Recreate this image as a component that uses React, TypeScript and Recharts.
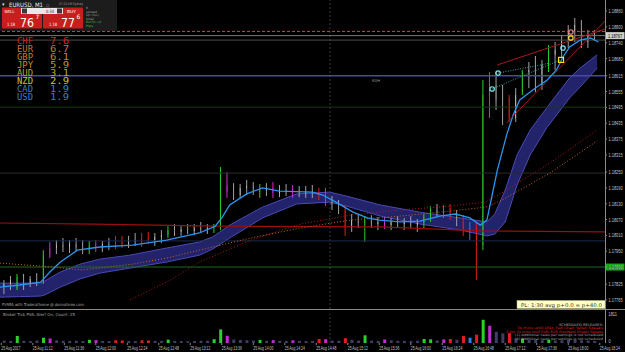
import React from 'react';
import {
  ComposedChart,
  BarChart,
  Bar,
  Line,
  Area,
  XAxis,
  YAxis,
  ReferenceLine,
  Cell,
} from 'recharts';

// EURUSD M1, 25 Aug 2017, grouped into 5-minute candles from 10:48
const candleOpen = [
  1.17818, 1.17826, 1.1781, 1.17852, 1.17829, 1.17845, 1.17833, 1.17935, 1.17962, 1.17973,
  1.17966, 1.17977, 1.17966, 1.17954, 1.1797, 1.17962, 1.17977, 1.17973, 1.17985, 1.17977,
  1.17992, 1.17985, 1.18, 1.17992, 1.18004, 1.18011, 1.1803, 1.18023, 1.18034, 1.18027,
  1.18038, 1.1803, 1.18038, 1.18045, 1.18201, 1.18174, 1.18163, 1.1819, 1.18197, 1.18174,
  1.18182, 1.1819, 1.1817, 1.18182, 1.18174, 1.18182, 1.1817, 1.18178, 1.18163, 1.1817,
  1.18136, 1.18125, 1.18106, 1.18038, 1.18068, 1.18057, 1.18064, 1.18053, 1.18061, 1.18049,
  1.18061, 1.18053, 1.18064, 1.18049, 1.18057, 1.1808, 1.18106, 1.18098, 1.18114, 1.18083,
  1.18061, 1.18023, 1.18038, 1.17973, 1.18542, 1.1858, 1.18523, 1.18531, 1.18455, 1.18553,
  1.18629, 1.18637, 1.1858, 1.18656, 1.18694, 1.18712, 1.1875, 1.18781, 1.18807, 1.18743,
  1.18769,
];
const candleHigh = [
  1.17841, 1.17856, 1.17864, 1.17864, 1.17856, 1.17867, 1.17954, 1.17985, 1.17992, 1.18,
  1.17992, 1.18, 1.17992, 1.17989, 1.17992, 1.17989, 1.18, 1.18008, 1.18008, 1.18008,
  1.18019, 1.18019, 1.18023, 1.18019, 1.1803, 1.18045, 1.18053, 1.18049, 1.18053, 1.18053,
  1.18061, 1.18053, 1.18053, 1.18269, 1.1825, 1.18208, 1.18205, 1.1822, 1.18212, 1.18205,
  1.18208, 1.18212, 1.18201, 1.18205, 1.18201, 1.18197, 1.18197, 1.18201, 1.1819, 1.1819,
  1.18159, 1.18144, 1.18125, 1.18091, 1.18091, 1.18083, 1.18087, 1.1808, 1.1808, 1.18076,
  1.18083, 1.18076, 1.18083, 1.18072, 1.18091, 1.18121, 1.18129, 1.18125, 1.18129, 1.18106,
  1.18087, 1.18061, 1.18061, 1.18599, 1.18629, 1.18629, 1.1858, 1.18542, 1.18568, 1.18637,
  1.18667, 1.1869, 1.18675, 1.18731, 1.18743, 1.18769, 1.18807, 1.18834, 1.18826, 1.18788,
  1.18788,
];
const candleLow = [
  1.17788, 1.17803, 1.17803, 1.17803, 1.17814, 1.17818, 1.17826, 1.17924, 1.17939, 1.17947,
  1.17943, 1.17951, 1.17939, 1.17939, 1.17947, 1.17947, 1.17954, 1.17958, 1.17962, 1.17962,
  1.1797, 1.17966, 1.17977, 1.1797, 1.17981, 1.18, 1.18008, 1.18008, 1.18015, 1.18011,
  1.18019, 1.18015, 1.18019, 1.1803, 1.18152, 1.18144, 1.18152, 1.18163, 1.18163, 1.18152,
  1.18159, 1.18152, 1.18155, 1.18159, 1.18152, 1.18155, 1.18152, 1.18152, 1.18144, 1.18121,
  1.18106, 1.18091, 1.18008, 1.18023, 1.18038, 1.17985, 1.18038, 1.1803, 1.18034, 1.1803,
  1.18038, 1.1803, 1.18038, 1.18023, 1.18038, 1.18061, 1.18083, 1.18076, 1.18068, 1.18045,
  1.18008, 1.17992, 1.17841, 1.17954, 1.18455, 1.18485, 1.18428, 1.1844, 1.1844, 1.18542,
  1.18568, 1.18553, 1.18561, 1.18629, 1.18637, 1.18682, 1.1872, 1.18743, 1.1872, 1.1872,
  1.1875,
];
const candleClose = [
  1.17826, 1.17841, 1.17852, 1.17829, 1.17845, 1.17833, 1.17935, 1.17962, 1.17973, 1.17966,
  1.17977, 1.17966, 1.17954, 1.1797, 1.17962, 1.17977, 1.17973, 1.17985, 1.17977, 1.17992,
  1.17985, 1.18, 1.17992, 1.18004, 1.18011, 1.1803, 1.18023, 1.18034, 1.18027, 1.18038,
  1.1803, 1.18038, 1.18045, 1.18201, 1.18174, 1.18163, 1.1819, 1.18197, 1.18174, 1.18182,
  1.1819, 1.1817, 1.18182, 1.18174, 1.18182, 1.1817, 1.18178, 1.18163, 1.1817, 1.18136,
  1.18125, 1.18106, 1.18038, 1.18068, 1.18057, 1.18064, 1.18053, 1.18061, 1.18049, 1.18061,
  1.18053, 1.18064, 1.18049, 1.18057, 1.1808, 1.18106, 1.18098, 1.18114, 1.18083, 1.18061,
  1.18023, 1.18038, 1.17973, 1.18542, 1.1858, 1.18523, 1.18477, 1.18455, 1.18542, 1.18629,
  1.18637, 1.1858, 1.18656, 1.18694, 1.18712, 1.1875, 1.18781, 1.18807, 1.18743, 1.18769,
  1.18767,
];
// PVSRA bar colour: n normal, g green climax, r red climax, m magenta, b blue
const candleKind = (
  'nngnnngmnn' + 'nnngmnnrrn' + 'nrrnngnnnn' + 'nnggmnnnng' + 'nmnnmnnnrm' +
  'nnrnngnnmn' + 'nnnnggnmrn' + 'rbrgmnnrng' + 'nnngnnnnnn' + 'n'
).split('');
const tickVolume = [
  150, 130, 440, 140, 120, 160, 330, 280, 170, 140,
  130, 140, 120, 200, 180, 130, 120, 170, 160, 130,
  120, 170, 160, 130, 140, 210, 130, 120, 110, 130,
  140, 150, 240, 850, 450, 220, 190, 170, 150, 190,
  140, 180, 140, 130, 170, 130, 120, 120, 250, 240,
  150, 140, 300, 200, 150, 480, 150, 130, 220, 170,
  140, 130, 120, 140, 250, 230, 160, 230, 250, 200,
  440, 330, 520, 1450, 1080, 700, 600, 620, 300, 280,
  190, 200, 170, 200, 160, 170, 190, 210, 170, 150,
  130,
];

// fast EMA (blue)
const emaTime = [
  -1, 14, 30, 37, 45, 58, 75, 100, 126, 151, 163, 168, 174, 187, 199, 212, 237, 245, 256, 268,
  279, 288, 304, 319, 334, 346, 357, 365, 370, 374, 378, 382, 385, 390, 395, 408, 416, 423, 428,
  433, 441, 449, 455,
];
const emaPrice = [
  1.17814, 1.17822, 1.17833, 1.17871, 1.17909, 1.17954, 1.17966, 1.17973, 1.17992, 1.18019,
  1.18045, 1.18076, 1.18125, 1.18167, 1.1819, 1.18178, 1.18174, 1.18163, 1.18133, 1.18098,
  1.18076, 1.18068, 1.18061, 1.18064, 1.18083, 1.18091, 1.18076, 1.18049, 1.18068, 1.18163,
  1.18258, 1.18333, 1.1839, 1.18466, 1.18523, 1.18572, 1.18599, 1.18637, 1.18686, 1.18724,
  1.1875, 1.18758, 1.18743,
];

// EMA ribbon (band)
const ribbonTime = [
  -1, 30, 33, 45, 60, 75, 98, 126, 151, 161, 174, 199, 225, 250, 263, 289, 319, 350, 370, 376,
  384, 393, 403, 416, 426, 433, 441, 454,
];
const ribbonTop = [
  1.17829, 1.17829, 1.17837, 1.17871, 1.17901, 1.1792, 1.17935, 1.17962, 1.17985, 1.18004,
  1.18049, 1.18117, 1.18167, 1.18174, 1.18159, 1.18125, 1.18098, 1.18076, 1.18061, 1.18091,
  1.18182, 1.18315, 1.18409, 1.18496, 1.18561, 1.18606, 1.18644, 1.18694,
];
const ribbonBottom = [
  1.17776, 1.1778, 1.17784, 1.17814, 1.17845, 1.17867, 1.17886, 1.17909, 1.17935, 1.17958,
  1.18, 1.18076, 1.18129, 1.18136, 1.18121, 1.18083, 1.18053, 1.1803, 1.18008, 1.18015,
  1.18061, 1.18201, 1.18315, 1.18421, 1.18485, 1.18531, 1.18572, 1.18644,
];

// slow moving averages (dotted)
const slowRedTime = [98, 129, 151, 190, 228, 266, 304, 342, 369, 380, 418, 454];
const slowRedPrice = [
  1.17765, 1.17841, 1.17909, 1.17992, 1.18053, 1.18087, 1.18106, 1.18121, 1.18136, 1.18167,
  1.18284, 1.18409,
];
const slowOrangeTime = [-1, 29, 62, 100, 126, 151, 190, 228, 266, 304, 342, 369, 380, 418, 454];
const slowOrangePrice = [
  1.17905, 1.17894, 1.17879, 1.17901, 1.17924, 1.17954, 1.18, 1.18038, 1.18068, 1.18083,
  1.18102, 1.18117, 1.1814, 1.18246, 1.18368,
];

// red pivot line
const pivotTime = [-1, 70, 164, 289, 365, 460];
const pivotPrice = [1.18057, 1.18053, 1.18045, 1.18042, 1.18027, 1.18023];

// wedge trend lines
const wedgeUpperTime = [378, 460];
const wedgeUpperPrice = [1.18656, 1.18792];
const wedgeLowerTime = [385, 460];
const wedgeLowerPrice = [1.18436, 1.18822];

// swing markers and links
const linkATime = [378.5, 418];
const linkAPrice = [1.18625, 1.18663];
const linkBTime = [374, 426];
const linkBPrice = [1.18565, 1.18675];
const signalTime = [374, 378.5, 426.5, 428, 434, 434];
const signalPrice = [1.18565, 1.18625, 1.18675, 1.1872, 1.18758, 1.18781];
const signalKind = ['cyan', 'cyan', 'square', 'cyan', 'ring', 'pink'];

const priceTicks = [
  1.1886, 1.188, 1.1874, 1.1868, 1.18615, 1.18555, 1.18495, 1.18435, 1.18375, 1.18315, 1.1825,
  1.1819, 1.1813, 1.1807, 1.1801, 1.1795, 1.1789, 1.17825, 1.17765,
];
const timeTicks = [0, 24, 48, 72, 96, 120, 144, 168, 192, 216, 240, 264, 288, 312, 336, 360, 384, 408, 432, 456];
const timeLabels = [
  '25 Aug 2017', '25 Aug 11:12', '25 Aug 11:36', '25 Aug 12:00', '25 Aug 12:24', '25 Aug 12:48',
  '25 Aug 13:12', '25 Aug 13:36', '25 Aug 14:00', '25 Aug 14:24', '25 Aug 14:48', '25 Aug 15:12',
  '25 Aug 15:36', '25 Aug 16:00', '25 Aug 16:24', '25 Aug 16:48', '25 Aug 17:12', '25 Aug 17:36',
  '25 Aug 18:00', '25 Aug 18:24',
];

const strengthCodes = ['CHF', 'EUR', 'GBP', 'JPY', 'AUD', 'NZD', 'CAD', 'USD'];
const strengthValues = ['7.6', '6.7', '6.1', '5.9', '3.1', '2.9', '1.9', '1.9'];
const strengthColors = ['#d82222', '#c27a2a', '#c8822a', '#d28c22', '#b4a82a', '#c8c830', '#2f7fd0', '#3a7ad8'];

const candles = candleOpen.map((o, i) => ({
  t: i * 5 + 2,
  o,
  h: candleHigh[i],
  l: candleLow[i],
  c: candleClose[i],
  k: candleKind[i],
  v: tickVolume[i],
}));
const pts = (ts: number[], ps: number[]) => ts.map((t, i) => ({ t, p: ps[i] }));
const ribbon = ribbonTime.map((t, i) => ({ t, hi: ribbonTop[i], lo: ribbonBottom[i] }));
const signals = signalTime.map((t, i) => ({ t, p: signalPrice[i], kind: signalKind[i] }));

const X_DOMAIN: [number, number] = [-1, 460];
const Y_DOMAIN: [number, number] = [1.17731, 1.18902];
const FONT = 'DejaVu Sans, sans-serif';
const NARROW = 'Liberation Sans, Arial, sans-serif';
const KIND_COLOR: Record<string, string> = { g: '#2bd12b', r: '#e41c1c', m: '#d12bd6', b: '#2f7bf0' };
const VOL_COLOR: Record<string, string> = { g: '#2bd12b', r: '#e41c1c', m: '#c42bd6', b: '#2f7bf0' };

// small axis text, stretched vertically so it stays narrow
function Tiny({ x, y, size, sy = 1.5, fill = '#c4c4c4', children }: any) {
  return (
    <text transform={`translate(${x} ${y}) scale(1 ${sy})`} fontSize={size} fill={fill} fontFamily={NARROW}>
      {children}
    </text>
  );
}

function Candle(props: any) {
  const { x, y, width, height, payload } = props;
  if (!payload || !isFinite(y) || !isFinite(height)) return null;
  const top = Math.min(y, y + height);
  const span = Math.abs(height);
  const { o, h, l, c, k } = payload;
  const range = h - l || 1e-9;
  const toY = (p: number) => top + ((h - p) / range) * span;
  const yo = toY(o);
  const yc = toY(c);
  const body = KIND_COLOR[k] ?? (c >= o ? '#d8d8d8' : '#8e8e8e');
  const wick = KIND_COLOR[k] ?? '#a2a2a2';
  const cx = x + width / 2;
  return (
    <g>
      <line x1={cx} x2={cx} y1={top} y2={top + span} stroke={wick} strokeWidth={1} />
      <rect x={x} y={Math.min(yo, yc)} width={width} height={Math.max(1, Math.abs(yo - yc))} fill={body} />
    </g>
  );
}

function Signal(props: any) {
  const { cx, cy, payload } = props;
  if (cx == null || cy == null || !payload) return null;
  if (payload.kind === 'square')
    return <rect x={cx - 2.5} y={cy - 2.5} width={5} height={5} fill="none" stroke="#f2e21a" strokeWidth={1.2} />;
  const stroke = payload.kind === 'cyan' ? '#7fe8f2' : payload.kind === 'ring' ? '#f2e21a' : '#f08080';
  return <circle cx={cx} cy={cy} r={2.2} fill="none" stroke={stroke} strokeWidth={1.2} />;
}

function PriceTick(props: any) {
  const { y, payload } = props;
  return (
    <Tiny x={608.5} y={y + 2} size={3.9} sy={1.6}>
      {Number(payload.value).toFixed(5)}
    </Tiny>
  );
}

function VolumeTick(props: any) {
  const { y, payload } = props;
  return (
    <Tiny x={608.5} y={payload.value > 0 ? y + 2 : y} size={3.9} sy={1.6}>
      {payload.value}
    </Tiny>
  );
}

function TimeTick(props: any) {
  const { x, y, payload } = props;
  const label = timeLabels[timeTicks.indexOf(payload.value)];
  return (
    <Tiny x={x} y={y + 3} size={3.4} sy={1.5}>
      {label}
    </Tiny>
  );
}

function PriceTag(props: any) {
  const { viewBox, text, bg, fg } = props;
  if (!viewBox) return null;
  const left = viewBox.x + viewBox.width + 1;
  return (
    <g>
      <rect x={left} y={viewBox.y - 3.5} width={18.5} height={7} fill={bg} />
      <Tiny x={left + 2} y={viewBox.y + 2} size={3.9} sy={1.6} fill={fg}>
        {text}
      </Tiny>
    </g>
  );
}

function Overlay() {
  const t = (x: number, y: number, s: string, size: number, fill: string, len?: number, anchor?: string) => (
    <text
      x={x}
      y={y}
      fontSize={size}
      fill={fill}
      fontFamily={FONT}
      textAnchor={anchor as any}
      textLength={len}
      lengthAdjust={len ? 'spacingAndGlyphs' : undefined}
    >
      {s}
    </text>
  );
  return (
    <svg width={625} height={352} style={{ position: 'absolute', left: 0, top: 0, pointerEvents: 'none' }}>
      {/* one-click trading panel */}
      <rect x={0} y={0} width={117} height={31} fill="#1c1c1c" />
      {t(2, 6, '▾', 5, '#dddddd')}
      {t(9, 6.5, 'EURUSD, M1', 6, '#eeeeee', 34)}
      {t(46, 6.5, '▫', 5, '#8888cc')}
      {t(59, 5, '07:20 AM Sydney', 3.5, '#9a9a9a', 24)}
      <rect x={2} y={7.5} width={40} height={21} fill="#c81e1e" rx={1} />
      <rect x={43} y={7.5} width={40} height={21} fill="#c81e1e" rx={1} />
      <rect x={21} y={8} width={42} height={6} fill="#e8e8e8" />
      <rect x={22} y={8.5} width={5} height={5} fill="#3a3a3a" />
      <rect x={57} y={8.5} width={5} height={5} fill="#3a3a3a" />
      {t(4.5, 12.5, 'SELL', 4, '#ffffff', 10)}
      {t(67, 12.5, 'BUY', 4, '#ffffff', 9)}
      {t(46, 12.8, '0.50', 4.5, '#222222', 8)}
      {t(7, 26, '1.18', 4.5, '#ffffff', 8)}
      {t(20, 27, '76', 13, '#ffffff', 14)}
      {t(35.5, 19, '7', 6, '#ffffff')}
      {t(49, 26, '1.18', 4.5, '#ffffff', 8)}
      {t(61, 27, '77', 13, '#ffffff', 14)}
      {t(76.5, 19, '6', 6, '#ffffff')}
      {t(86, 9, 'B', 3, '#9a9a9a')}
      {t(86, 12.5, 'spread', 3, '#9a9a9a', 11)}
      {t(86, 16, 'Spr (SLL)', 3, '#9a9a9a', 13)}
      {t(86, 19.5, 'total', 3, '#9a9a9a', 8)}
      {t(86, 23, 'Bid P/L +0', 3, '#3cc03c', 15)}
      {t(86, 26.5, 'Pips', 3, '#3cc03c', 7)}

      {/* currency strength */}
      {strengthCodes.map((code, i) => (
        <g key={code}>
          <text x={17} y={43.5 + i * 8.1} fontSize={8} fill={strengthColors[i]} fontFamily="DejaVu Sans Mono, monospace" textLength={16} lengthAdjust="spacingAndGlyphs">
            {code}
          </text>
          <text x={50} y={43.5 + i * 8.1} fontSize={8} fill={strengthColors[i]} fontFamily="DejaVu Sans Mono, monospace" textLength={19} lengthAdjust="spacingAndGlyphs">
            {strengthValues[i]}
          </text>
        </g>
      ))}

      {t(372, 82, 'RDH', 3.8, '#9a9a9a', 8)}
      {t(2, 306, 'PVSRA with Traderathome @ donnaforex.com', 4, '#a8a8a8', 82)}

      <rect x={517} y={300.5} width={88} height={8} fill="#ffffc4" stroke="#bdbd8a" strokeWidth={0.5} />
      {t(521, 306.5, 'PL: 1:30 avg p+0.0 = p+40.0', 5, '#333333', 81)}

      {/* panel separators and price scale line */}
      <line x1={0} x2={625} y1={309.5} y2={309.5} stroke="#8a8a8a" strokeWidth={1} />
      <line x1={605.5} x2={605.5} y1={0} y2={343} stroke="#8a8a8a" strokeWidth={1} />

      {t(3, 315.5, 'Broker Tick PVA:     Alert On,     Count:  25', 4, '#a8a8a8', 72)}
      {t(603, 326, 'SCHEDULED RELEASES:', 3.4, '#b0b0b0', 44, 'end')}
      {t(603, 329.4, '34 mins until USD: Fed Chair Yellen Speaks', 3.2, '#e02020', 86, 'end')}
      {t(603, 332.8, '3 hrs 34 mins until EUR: ECB President Draghi Speaks', 3.2, '#e02020', 97, 'end')}
      {t(603, 336.2, '(1) Additional news per settings is not scheduled', 3.2, '#a0a0a0', 88, 'end')}
      {t(603, 339.6, '(2) Additional news per settings is not scheduled', 3.2, '#a0a0a0', 88, 'end')}
    </svg>
  );
}

export default function App() {
  return (
    <div style={{ position: 'fixed', left: 0, top: 0, width: 625, height: 352, background: '#000', overflow: 'hidden' }}>
      <div style={{ position: 'absolute', left: 0, top: 0 }}>
        <ComposedChart width={625} height={309} data={candles} margin={{ top: 0, right: 0, bottom: 0, left: 0 }}>
          <XAxis dataKey="t" type="number" domain={X_DOMAIN} allowDataOverflow hide />
          <YAxis
            orientation="right"
            width={20}
            domain={Y_DOMAIN}
            allowDataOverflow
            ticks={priceTicks}
            interval={0}
            axisLine={false}
            tickLine={{ stroke: '#8a8a8a' }}
            tickSize={2}
            tick={<PriceTick />}
          />
          <ReferenceLine x={250.4} stroke="#3a3a3a" strokeDasharray="2 2" />
          <ReferenceLine y={1.18496} stroke="#163a16" />
          <ReferenceLine y={1.18246} stroke="#2a2a2a" />
          <ReferenceLine y={1.17989} stroke="#1c2a4e" />
          <ReferenceLine y={1.1789} stroke="#1d6b1d" label={<PriceTag text="1.17890" bg="#12b012" fg="#053005" />} />
          <ReferenceLine y={1.18615} stroke="#4848a8" strokeWidth={1.5} />
          <ReferenceLine y={1.18783} stroke="#c05050" strokeDasharray="3 2" />
          <ReferenceLine y={1.1875} stroke="#4a4a4a" />
          <ReferenceLine y={1.18767} stroke="#777777" label={<PriceTag text="1.18767" bg="#d0d0d0" fg="#000000" />} />

          <Line data={pts(pivotTime, pivotPrice)} dataKey="p" stroke="#9a0e0e" strokeWidth={1.2} dot={false} activeDot={false} isAnimationActive={false} />
          <Line data={pts(slowOrangeTime, slowOrangePrice)} dataKey="p" stroke="#c8641a" strokeWidth={1} strokeDasharray="1 2" dot={false} activeDot={false} isAnimationActive={false} />
          <Line data={pts(slowRedTime, slowRedPrice)} dataKey="p" stroke="#b01818" strokeWidth={1} strokeDasharray="1 2" dot={false} activeDot={false} isAnimationActive={false} />
          <Area
            data={ribbon}
            dataKey={(d: any) => [d.lo, d.hi]}
            fill="#23236c"
            fillOpacity={1}
            stroke="#4a4ab4"
            strokeWidth={1}
            dot={false}
            activeDot={false}
            isAnimationActive={false}
          />
          <Bar dataKey={(d: any) => [d.l, d.h]} barSize={4} shape={(p: any) => <Candle {...p} />} isAnimationActive={false} />
          <Line data={pts(emaTime, emaPrice)} dataKey="p" stroke="#2a95f0" strokeWidth={1.3} dot={false} activeDot={false} isAnimationActive={false} />
          <Line data={pts(wedgeUpperTime, wedgeUpperPrice)} dataKey="p" stroke="#a81a1a" strokeWidth={1} dot={false} activeDot={false} isAnimationActive={false} />
          <Line data={pts(wedgeLowerTime, wedgeLowerPrice)} dataKey="p" stroke="#a81a1a" strokeWidth={1} dot={false} activeDot={false} isAnimationActive={false} />
          <Line data={pts(linkATime, linkAPrice)} dataKey="p" stroke="#4fc6d8" strokeWidth={0.8} strokeDasharray="1 1.5" dot={false} activeDot={false} isAnimationActive={false} />
          <Line data={pts(linkBTime, linkBPrice)} dataKey="p" stroke="#4fc6d8" strokeWidth={0.8} strokeDasharray="1 1.5" dot={false} activeDot={false} isAnimationActive={false} />
          <Line
            data={signals}
            dataKey="p"
            stroke="none"
            strokeWidth={0}
            dot={(p: any) => <Signal key={p.index} {...p} />}
            activeDot={false}
            isAnimationActive={false}
          />
        </ComposedChart>
      </div>
      <div style={{ position: 'absolute', left: 0, top: 309 }}>
        <BarChart width={625} height={43} data={candles} margin={{ top: 5, right: 0, bottom: 0, left: 0 }}>
          <XAxis
            dataKey="t"
            type="number"
            domain={X_DOMAIN}
            allowDataOverflow
            ticks={timeTicks}
            interval={0}
            height={9}
            axisLine={false}
            tickLine={{ stroke: '#8a8a8a' }}
            tickSize={2}
            tick={<TimeTick />}
          />
          <YAxis
            orientation="right"
            width={20}
            domain={[0, 1811]}
            ticks={[0, 1811]}
            interval={0}
            axisLine={false}
            tickLine={false}
            tick={<VolumeTick />}
          />
          <ReferenceLine x={250.4} stroke="#3a3a3a" strokeDasharray="2 2" />
          <Bar dataKey="v" barSize={3} isAnimationActive={false}>
            {candles.map((d, i) => (
              <Cell key={i} fill={VOL_COLOR[d.k] ?? '#3d3d66'} />
            ))}
          </Bar>
        </BarChart>
      </div>
      <Overlay />
    </div>
  );
}
